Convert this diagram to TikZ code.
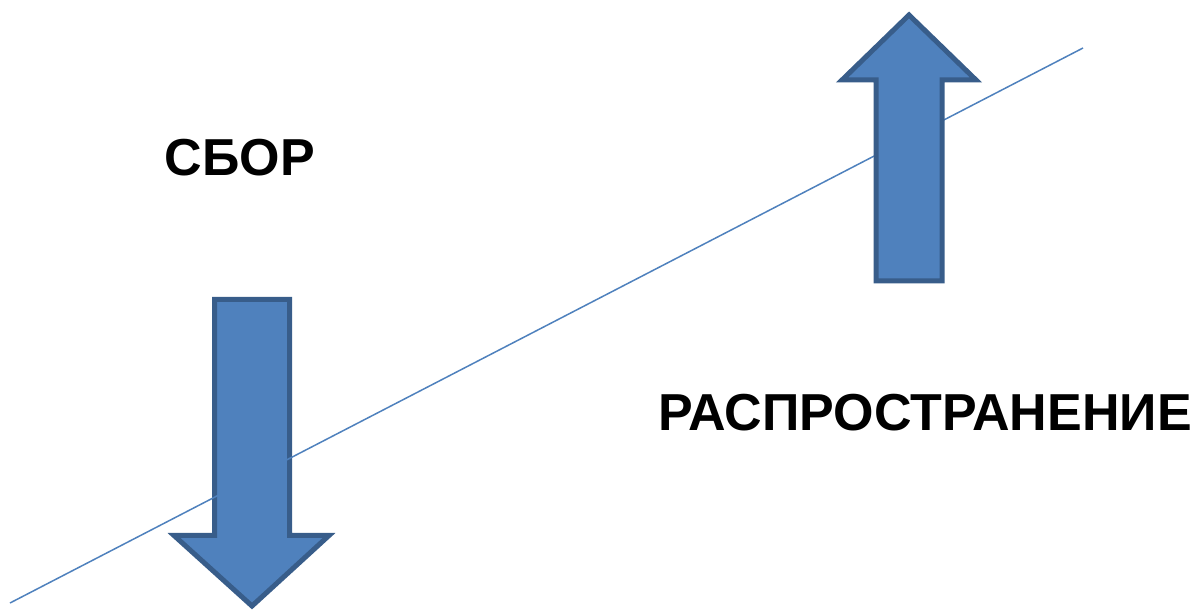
\documentclass[tikz,border=0pt]{standalone}
\usepackage{fontspec}
\setmainfont{Liberation Sans}
\definecolor{arrowfill}{HTML}{4F81BD}
\definecolor{arrowline}{HTML}{385D8A}
\tikzset{
    bigarrow/.style={fill=arrowfill, draw=arrowline, line width=2.5pt, line join=miter},
    trend/.style={draw=arrowfill, line width=0.75pt},
    caption/.style={font=\fontsize{26}{30}\selectfont\bfseries, inner sep=0pt}
}
\begin{document}
\begin{tikzpicture}[x=0.5pt,y=-0.5pt]
        \useasboundingbox (0,0) rectangle (1203,613);

        \draw[bigarrow] (214.5,299.5) -- (289.5,299.5) -- (289.5,535.5) -- (329,535.5)
            -- (252,606) -- (174,535.5) -- (214.5,535.5) -- cycle;

        \coordinate (low) at (10,603);
        \coordinate (high) at (1083,48);
        \path[trend] (low) -- (high);

        \draw[bigarrow] (876,281) -- (876,80) -- (842,80) -- (909,15)
            -- (976,80) -- (942,80) -- (942,281) -- cycle;

        \node[caption] (sbor) at (240,158) {СБОР};
        \node[caption] (rasp) at (925,413) {РАСПРОСТРАНЕНИЕ};
    \end{tikzpicture}
\end{document}
